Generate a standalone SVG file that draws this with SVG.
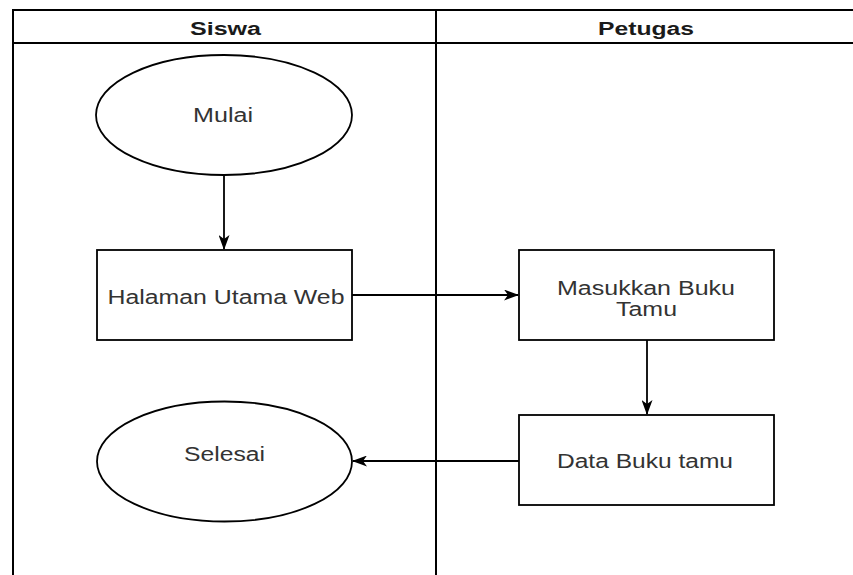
<svg xmlns="http://www.w3.org/2000/svg" width="853" height="575" viewBox="0 0 853 575">
<defs>
<marker id="arr" viewBox="0 0 15 11" refX="14" refY="5.5" markerWidth="15" markerHeight="11" markerUnits="userSpaceOnUse" orient="auto">
<path d="M0,0 L15,5.5 L0,11 L4,5.5 Z" fill="#000"/>
</marker>
<style>
.frame{fill:none;stroke:#000;stroke-width:2}
.shape{fill:#fff;stroke:#000;stroke-width:1.8}
.conn{fill:none;stroke:#000;stroke-width:1.8;marker-end:url(#arr)}
.hdr{font-family:"Liberation Sans",Arial,sans-serif;font-weight:bold;font-size:18px;fill:#1a1a1a;text-anchor:middle}
.lbl{font-family:"Liberation Sans",Arial,sans-serif;font-size:20px;fill:#333;text-anchor:middle}
</style>
</defs>
<rect width="853" height="575" fill="#fff"/>
<g id="pool">
<rect class="frame" x="13" y="10" width="850" height="580"/>
<line class="frame" x1="13" y1="43" x2="853" y2="43"/>
<line class="frame" x1="436" y1="10" x2="436" y2="575"/>
</g>
<g id="lane-siswa"><text class="hdr" x="225.5" y="35" textLength="71" lengthAdjust="spacingAndGlyphs">Siswa</text></g>
<g id="lane-petugas"><text class="hdr" x="646" y="35" textLength="96" lengthAdjust="spacingAndGlyphs">Petugas</text></g>
<g id="connectors">
<line class="conn" x1="224" y1="175" x2="224" y2="249"/>
<line class="conn" x1="352" y1="295" x2="518" y2="295"/>
<line class="conn" x1="647" y1="340" x2="647" y2="414"/>
<line class="conn" x1="519" y1="461" x2="353" y2="461"/>
</g>
<g id="mulai">
<ellipse class="shape" cx="224" cy="115" rx="128" ry="60"/>
<text class="lbl" x="223" y="122" textLength="60" lengthAdjust="spacingAndGlyphs">Mulai</text>
</g>
<g id="halaman">
<rect class="shape" x="97" y="250" width="255" height="90"/>
<text class="lbl" x="226" y="304" textLength="237" lengthAdjust="spacingAndGlyphs">Halaman Utama Web</text>
</g>
<g id="masukkan">
<rect class="shape" x="519" y="250" width="255" height="90"/>
<text class="lbl" x="646" y="295" textLength="178" lengthAdjust="spacingAndGlyphs">Masukkan Buku</text>
<text class="lbl" x="646.5" y="316" textLength="61" lengthAdjust="spacingAndGlyphs">Tamu</text>
</g>
<g id="data">
<rect class="shape" x="519" y="415" width="255" height="90"/>
<text class="lbl" x="645" y="468" textLength="176" lengthAdjust="spacingAndGlyphs">Data Buku tamu</text>
</g>
<g id="selesai">
<ellipse class="shape" cx="224.5" cy="461.5" rx="127.5" ry="60"/>
<text class="lbl" x="224.5" y="461" textLength="81" lengthAdjust="spacingAndGlyphs">Selesai</text>
</g>
</svg>
